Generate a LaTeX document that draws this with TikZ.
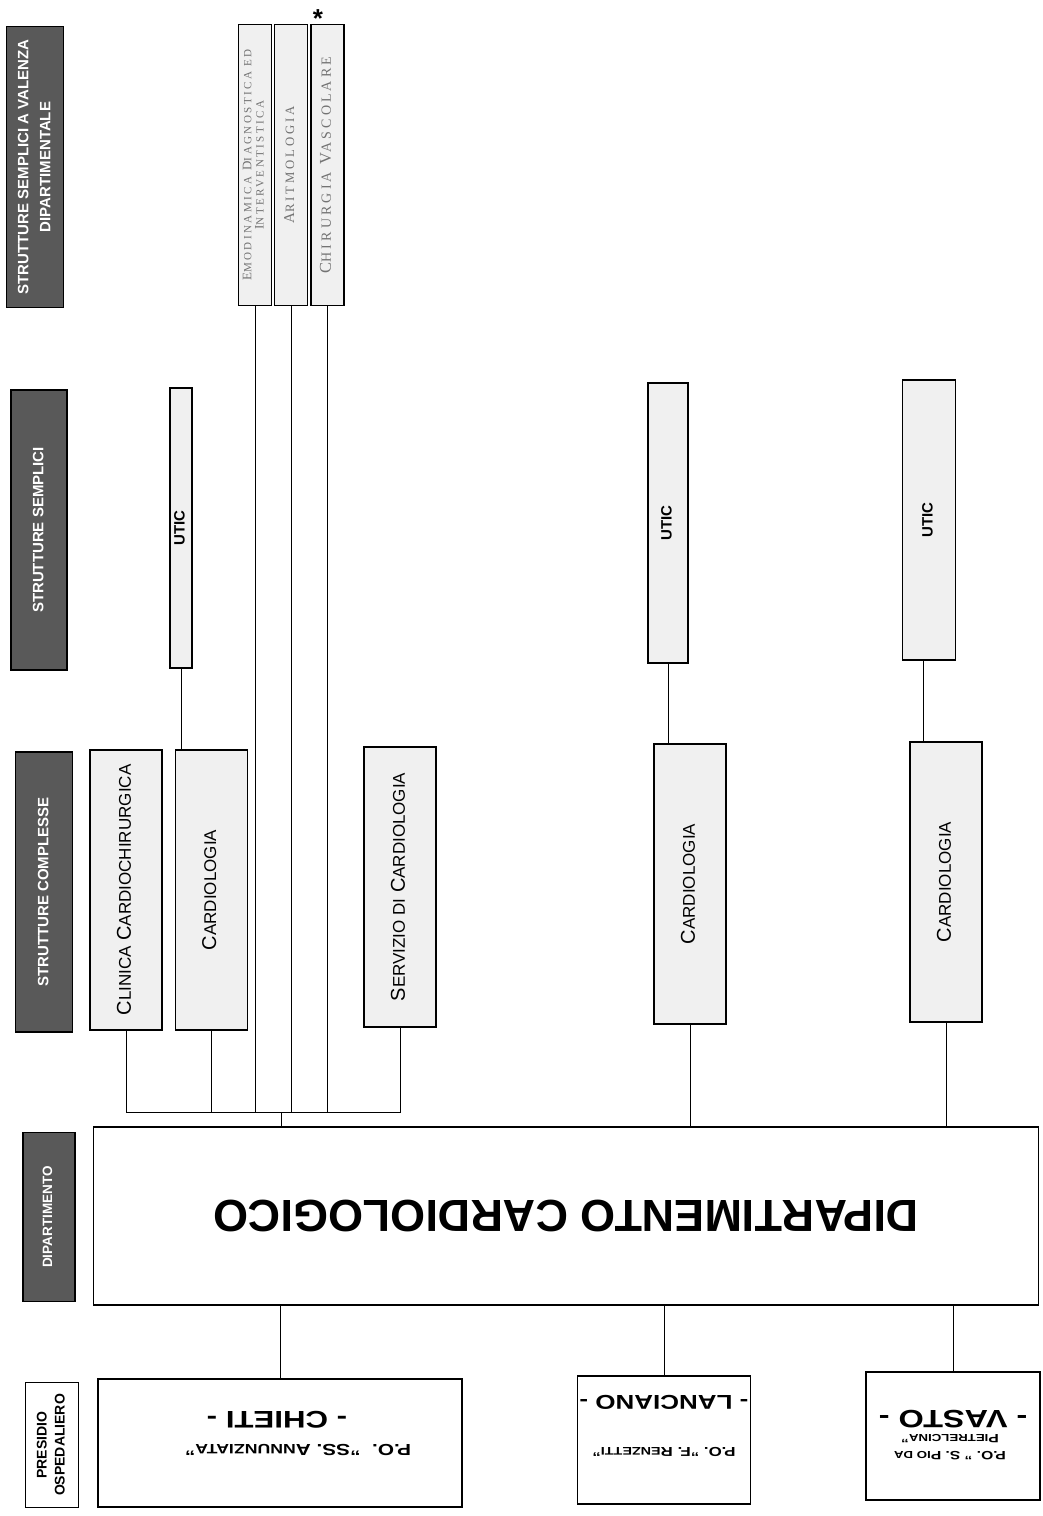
\documentclass[tikz,border=0pt]{standalone}
\usepackage{graphicx}
\usepackage{fontspec}
\setmainfont{Liberation Sans}
\newfontfamily\thinfont[LetterSpace=22]{Liberation Serif}
\usetikzlibrary{positioning}

% fake small caps, vertical text, wide lettering
\newcommand{\sml}[1]{\scalebox{.85}{#1}}
\newcommand{\vtxt}[1]{\rotatebox{90}{\begin{tabular}{@{}c@{}}#1\end{tabular}}}
\newcommand{\wide}[1]{\scalebox{1.3}[1]{#1}}

\begin{document}
\begin{tikzpicture}[x=1pt, y=-1pt,
    hdr_block/.style={rectangle, draw, line width=1.2pt, fill=black!65, text=white, inner sep=0pt, font=\bfseries\fontsize{15}{22}\selectfont},
    pres_head/.style={hdr_block, fill=white, text=black, font=\bfseries\fontsize{14}{18}\selectfont},
    dip_unit/.style={rectangle, draw, line width=1.2pt, fill=black!6, text=black!55, inner sep=0pt, minimum width=33pt, minimum height=281pt, font=\thinfont\fontsize{15}{14}\selectfont},
    utic_block/.style={rectangle, draw, line width=1.2pt, fill=black!6, inner sep=0pt, minimum height=280pt, font=\bfseries\fontsize{15}{18}\selectfont},
    uoc_block/.style={rectangle, draw, line width=1.2pt, fill=black!6, inner sep=0pt, minimum width=72pt, minimum height=280pt, font=\fontsize{20}{24}\selectfont},
    dip_block/.style={rectangle, draw, line width=1.2pt, fill=white, inner sep=0pt, minimum width=945pt, minimum height=178pt, font=\bfseries\fontsize{45}{54}\selectfont},
    po_block/.style={rectangle, draw, line width=1.2pt, fill=white, inner sep=0pt, minimum height=128pt},
    city_label/.style={inner sep=0pt, rotate=180, font=\bfseries\fontsize{24}{28}\selectfont},
    po_label/.style={inner sep=0pt, rotate=180, align=center, font=\bfseries\fontsize{12}{17}\selectfont},
    org_line/.style={line width=1pt}
]
    \path[fill=white] (0,0) rectangle (1043,1516);
    \useasboundingbox (0,0) rectangle (1043,1516);

    % Header column
    \node[hdr_block, minimum width=57pt, minimum height=281pt] (h_vd) at (35,167) {\vtxt{STRUTTURE SEMPLICI A VALENZA\\DIPARTIMENTALE}};
    \node[hdr_block, minimum width=56pt, minimum height=280pt] (h_ss) at (39,530) {\vtxt{STRUTTURE SEMPLICI}};
    \node[hdr_block, minimum width=57pt, minimum height=280pt] (h_sc) at (44,892) {\vtxt{STRUTTURE COMPLESSE}};
    \node[hdr_block, minimum width=52pt, minimum height=169pt, font=\bfseries\fontsize{13.5}{16}\selectfont] (h_dip) at (49,1217) {\vtxt{DIPARTIMENTO}};
    \node[pres_head, minimum width=53pt, minimum height=125pt] (h_po) at (52,1445) {\vtxt{PRESIDIO\\OSPEDALIERO}};

    % Strutture semplici a valenza dipartimentale
    \node[dip_unit, font=\thinfont\fontsize{13}{12}\selectfont] (emo) at (255,165) {\vtxt{E\sml{MODINAMICA} D\sml{IAGNOSTICA ED}\\I\sml{NTERVENTISTICA}}};
    \node[dip_unit, right=2pt of emo] (ari) {\vtxt{A\sml{RITMOLOGIA}}};
    \node[dip_unit, right=2pt of ari, font=\thinfont\fontsize{16.5}{14}\selectfont] (chv) {\vtxt{C\sml{HIRURGIA} V\sml{ASCOLARE}}};
    \node[inner sep=0pt, anchor=base, font=\bfseries\fontsize{26}{26}\selectfont] (star) at (318,27) {*};

    % Strutture semplici
    \node[utic_block, minimum width=22pt] (uticC) at (181,528) {\vtxt{UTIC}};
    \node[utic_block, minimum width=40pt] (uticL) at (668,523) {\vtxt{UTIC}};
    \node[utic_block, minimum width=53pt] (uticV) at (929,520) {\vtxt{UTIC}};

    % Strutture complesse
    \node[uoc_block] (clin) at (126,890) {\vtxt{C\sml{LINICA} C\sml{ARDIOCHIRURGICA}}};
    \node[uoc_block, right=12pt of clin] (cardC) {\vtxt{C\sml{ARDIOLOGIA}}};
    \node[uoc_block] (serv) at (400,887) {\vtxt{S\sml{ERVIZIO DI} C\sml{ARDIOLOGIA}}};
    \node[uoc_block] (cardL) at (690,884) {\vtxt{C\sml{ARDIOLOGIA}}};
    \node[uoc_block] (cardV) at (946,882) {\vtxt{C\sml{ARDIOLOGIA}}};

    % Dipartimento
    \node[dip_block] (dip) at (566,1216) {\rotatebox{180}{DIPARTIMENTO CARDIOLOGICO}};

    % Presidi ospedalieri
    \node[po_block, minimum width=364pt] (poC) at (280,1443) {};
    \node[po_block, minimum width=173pt] (poL) at (664,1440) {};
    \node[po_block, minimum width=174pt] (poV) at (953,1436) {};
    \node[city_label] (poC_city) at (277,1420) {\wide{- CHIETI -}};
    \node[po_label, font=\bfseries\fontsize{16}{20}\selectfont] (poC_name) at (298,1450) {\wide{P.O. \ "SS. A\sml{NNUNZIATA}"}};
    \node[city_label, font=\bfseries\fontsize{20}{24}\selectfont] (poL_city) at (664,1402) {\wide{- LANCIANO -}};
    \node[po_label, font=\bfseries\fontsize{13}{17}\selectfont] (poL_name) at (664,1452) {\wide{P.O. "F. R\sml{ENZETTI}"}};
    \node[city_label, font=\bfseries\fontsize{25}{30}\selectfont] (poV_city) at (953,1419) {\wide{- VASTO -}};
    \node[po_label] (poV_name) at (950,1447) {\wide{P.O. " S. P\sml{IO DA}}\\\wide{P\sml{IETRELCINA}"}};

    % Connections Chieti
    \coordinate (chieti_hub) at (281,1112);
    \draw[org_line] (clin.south) -- (clin.south |- chieti_hub) -- (serv.south |- chieti_hub) -- (serv.south);
    \draw[org_line] (cardC.south) -- (cardC.south |- chieti_hub);
    \draw[org_line] (emo.south) -- (emo.south |- chieti_hub);
    \draw[org_line] (ari.south) -- (ari.south |- chieti_hub);
    \draw[org_line] (chv.south) -- (chv.south |- chieti_hub);
    \draw[org_line] (chieti_hub) -- (chieti_hub |- dip.north);
    \draw[org_line] (uticC.south) -- (uticC.south |- cardC.north);

    % Connections Lanciano and Vasto
    \draw[org_line] (uticL.south) -- (uticL.south |- cardL.north);
    \draw[org_line] (cardL.south) -- (cardL.south |- dip.north);
    \draw[org_line] ([xshift=-6pt]uticV.south) -- ([xshift=-6pt]uticV.south |- cardV.north);
    \draw[org_line] (cardV.south) -- (cardV.south |- dip.north);

    % Presidi
    \draw[org_line] (dip.south -| poC.north) -- (poC.north);
    \draw[org_line] (dip.south -| poL.north) -- (poL.north);
    \draw[org_line] (dip.south -| poV.north) -- (poV.north);

\end{tikzpicture}
\end{document}
